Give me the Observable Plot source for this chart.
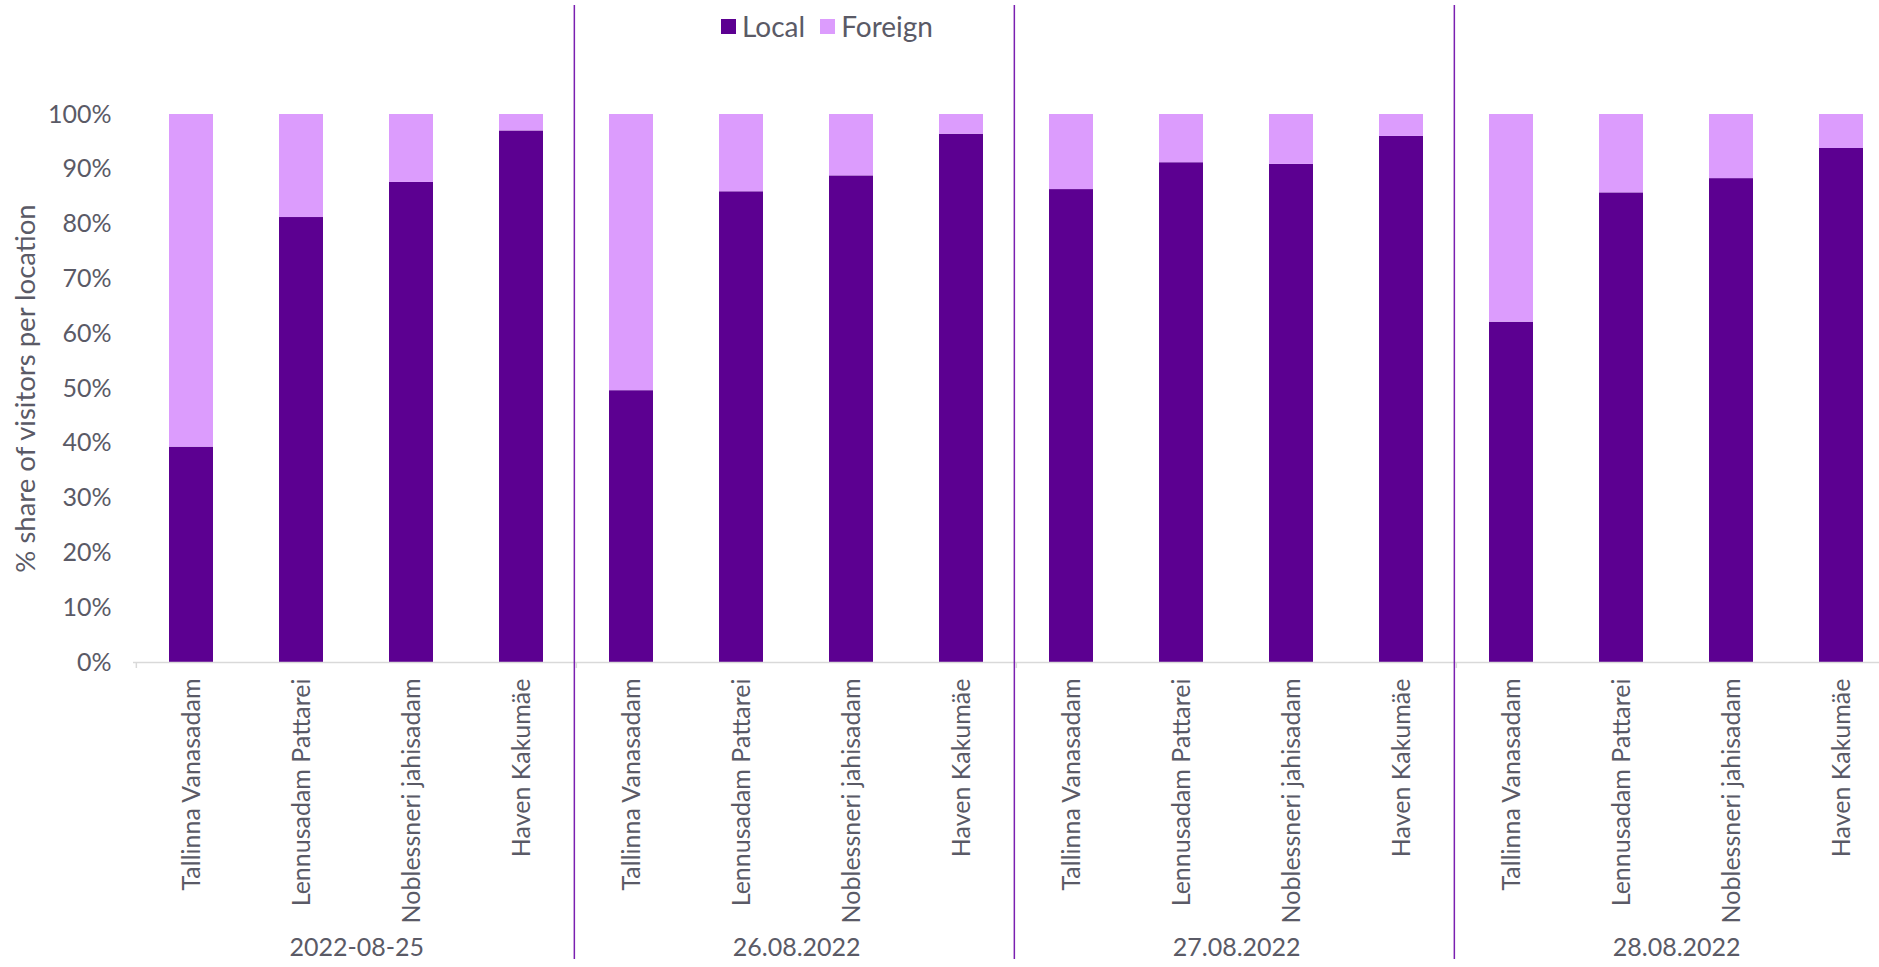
<!DOCTYPE html>
<html><head><meta charset="utf-8">
<script src="https://cdn.jsdelivr.net/npm/d3@7"></script>
<script src="https://cdn.jsdelivr.net/npm/@observablehq/plot@0.6"></script>
<style>
body{margin:0;background:#fff;font-family:Lato, sans-serif;}
#wrap{position:relative;width:1879px;height:967px;}
#legend{position:absolute;top:11px;left:721px;display:flex;align-items:center;font-size:28px;line-height:30px;color:#5a5a66;}
#legend .item{display:flex;align-items:center;margin-right:15px;}
#legend .sw{display:inline-block;width:15px;height:15px;margin-right:6px;}
</style></head><body>
<div id="wrap"><div id="legend"></div></div>
<script>
const dates = ["2022-08-25", "26.08.2022", "27.08.2022", "28.08.2022"];
const locations = ["Tallinna Vanasadam", "Lennusadam Pattarei", "Noblessneri jahisadam", "Haven Kakumäe"];
const seriesNames = ["Local", "Foreign"];
const seriesColors = ["#5c0091", "#dc9cfd"];

// % local visitors per location, one array per date
const local_2022_08_25 = [39.3, 81.2, 87.6, 97.0];
const local_26_08_2022 = [49.6, 85.9, 88.8, 96.4];
const local_27_08_2022 = [86.3, 91.2, 90.9, 96.0];
const local_28_08_2022 = [62.1, 85.7, 88.3, 93.8];
// % foreign visitors per location, one array per date
const foreign_2022_08_25 = [60.7, 18.8, 12.4, 3.0];
const foreign_26_08_2022 = [50.4, 14.1, 11.2, 3.6];
const foreign_27_08_2022 = [13.7, 8.8, 9.1, 4.0];
const foreign_28_08_2022 = [37.9, 14.3, 11.7, 6.2];

const yTicks = [0, 10, 20, 30, 40, 50, 60, 70, 80, 90, 100];
const yTitle = "% share of visitors per location";

const localByDate = [local_2022_08_25, local_26_08_2022, local_27_08_2022, local_28_08_2022];
const foreignByDate = [foreign_2022_08_25, foreign_26_08_2022, foreign_27_08_2022, foreign_28_08_2022];

const keyOf = (d, l) => d + "|" + l;
const rows = [];
dates.forEach((d, i) => locations.forEach((l, j) => {
  rows.push({key: keyOf(d, l), date: d, location: l, series: "Local", value: localByDate[i][j]});
  rows.push({key: keyOf(d, l), date: d, location: l, series: "Foreign", value: foreignByDate[i][j]});
}));
const keys = dates.flatMap(d => locations.map(l => keyOf(d, l)));
const labelRows = dates.flatMap(d => locations.map(l => ({key: keyOf(d, l), location: l})));

const W = 1879, H = 967;
const xRange = [133, 1898];
const yDomain = [0, 100];
const step = (xRange[1] - xRange[0]) / keys.length;
const gray = "#5a5a66";
const lineGray = "#d9d9d9";
const divider = "#7a1fb0";

const chart = Plot.plot({
  width: W, height: H,
  marginLeft: 133, marginRight: 0, marginTop: 5, marginBottom: 8,
  style: {fontFamily: "Lato, sans-serif", color: gray, background: "#fff", overflow: "visible"},
  x: {domain: keys, range: xRange, paddingInner: 0.6, paddingOuter: 0.3, axis: null},
  y: {domain: yDomain, range: [662, 114], axis: null},
  color: {domain: seriesNames, range: seriesColors},
  marks: [
    Plot.barY(rows, Plot.stackY({x: "key", y: "value", fill: "series", order: seriesNames})),
    Plot.ruleY([0], {stroke: lineGray, strokeWidth: 1.5}),
    Plot.ruleX(dates, {x: d => keyOf(d, locations[0]), dx: -step / 2, y1: 0, insetBottom: -6, stroke: lineGray, strokeWidth: 1.5}),
    Plot.ruleX(dates.slice(1), {x: d => keyOf(d, locations[0]), dx: -step / 2 - 2, stroke: divider, strokeWidth: 1.5}),
    Plot.text(yTicks, {y: d => d, text: d => d + "%", frameAnchor: "left", textAnchor: "end", dx: -22, fontSize: 25, fill: gray}),
    Plot.text([yTitle], {y: () => (yDomain[0] + yDomain[1]) / 2, text: d => d, frameAnchor: "left", dx: -107, rotate: -90, textAnchor: "middle", fontSize: 27.5, fill: gray}),
    Plot.text(labelRows, {x: "key", y: () => 0, text: "location", rotate: -90, textAnchor: "end", dy: 16, fontSize: 25, fill: gray}),
    Plot.text(dates, {x: d => keyOf(d, locations[1]), y: () => 0, text: d => d, dx: step / 2, dy: 285, fontSize: 25, fill: gray})
  ]
});
document.getElementById("wrap").prepend(chart);

const leg = document.getElementById("legend");
seriesNames.forEach((s, i) => {
  const it = document.createElement("span");
  it.className = "item";
  const sw = document.createElement("span");
  sw.className = "sw";
  sw.style.background = seriesColors[i];
  it.appendChild(sw);
  it.appendChild(document.createTextNode(s));
  leg.appendChild(it);
});
</script>
</body></html>
